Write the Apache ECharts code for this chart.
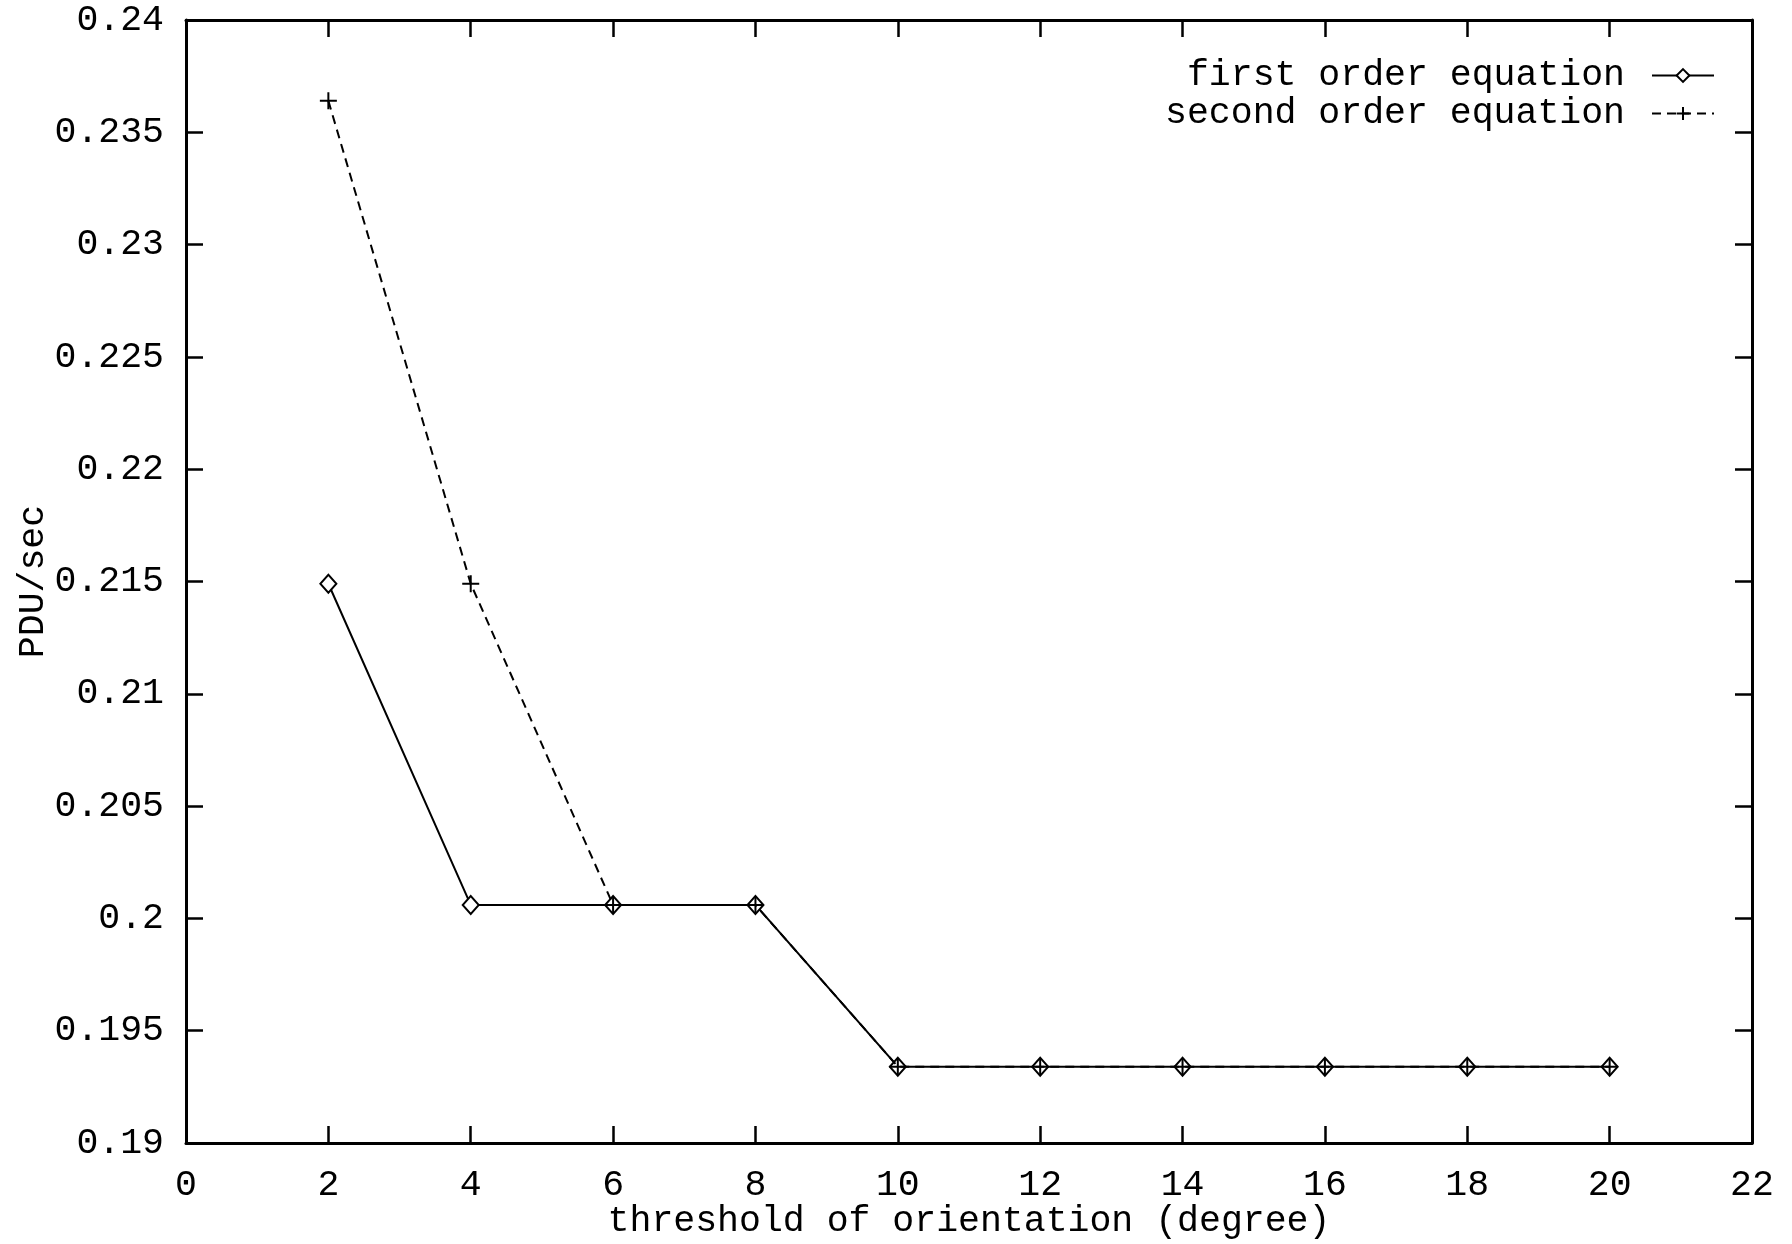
<!DOCTYPE html>
<html>
<head>
<meta charset="utf-8">
<script src="https://cdn.jsdelivr.net/npm/echarts@6/dist/echarts.min.js"></script>
<style>
  html, body { margin: 0; padding: 0; background: #ffffff; }
  #chart { width: 1792px; height: 1244px; }
</style>
</head>
<body>
<div id="chart"></div>
<script>
// Threshold of orientation (degree)
const thresholds = [2, 4, 6, 8, 10, 12, 14, 16, 18, 20];
// PDU/sec for each dead-reckoning model
const firstOrder  = [0.2149, 0.2006, 0.2006, 0.2006, 0.1934, 0.1934, 0.1934, 0.1934, 0.1934, 0.1934];
const secondOrder = [0.2364, 0.2149, 0.2006, 0.2006, 0.1934, 0.1934, 0.1934, 0.1934, 0.1934, 0.1934];
const seriesNames = ['first order equation', 'second order equation'];

const FONT = '"Liberation Mono", "DejaVu Sans Mono", monospace';
const FS = 36.5;

const pairs = (ys) => thresholds.map((x, i) => [x, ys[i]]);
const yFmt = (v) => String(+v.toFixed(3));

const tickStyle = { show: true, inside: true, length: 17, lineStyle: { color: '#000', width: 2.5 } };
const lineAxis = { show: true, onZero: false, lineStyle: { color: '#000', width: 3 } };

const chart = echarts.init(document.getElementById('chart'), null, { renderer: 'canvas' });
chart.setOption({
  animation: false,
  backgroundColor: '#ffffff',
  textStyle: { fontFamily: FONT, color: '#000' },
  grid: { left: 186, right: 40, top: 20, bottom: 101, containLabel: false, outerBoundsMode: 'none' },
  legend: {
    orient: 'vertical',
    right: 72,
    top: 52,
    align: 'right',
    itemWidth: 62,
    itemHeight: 16,
    itemGap: 1,
    textStyle: { fontFamily: FONT, fontSize: FS, color: '#000', padding: [0, 22, 0, 0] },
    data: seriesNames
  },
  xAxis: [
    {
      type: 'value', min: 0, max: 22, interval: 2,
      axisLine: lineAxis, axisTick: tickStyle, splitLine: { show: false },
      axisLabel: { fontFamily: FONT, fontSize: FS, color: '#000', margin: 24 },
      name: 'threshold of orientation (degree)',
      nameLocation: 'middle', nameGap: 60, nameMoveOverlap: false,
      nameTextStyle: { fontFamily: FONT, fontSize: FS, color: '#000' }
    },
    {
      type: 'value', position: 'top', min: 0, max: 22, interval: 2,
      axisLine: lineAxis, axisTick: tickStyle, splitLine: { show: false },
      axisLabel: { show: false }
    }
  ],
  yAxis: [
    {
      type: 'value', min: 0.19, max: 0.24, interval: 0.005,
      axisLine: lineAxis, axisTick: tickStyle, splitLine: { show: false },
      axisLabel: { fontFamily: FONT, fontSize: FS, color: '#000', margin: 22, formatter: yFmt },
      name: 'PDU/sec', nameLocation: 'middle', nameGap: 134, nameRotate: 90, nameMoveOverlap: false,
      nameTextStyle: { fontFamily: FONT, fontSize: FS, color: '#000' }
    },
    {
      type: 'value', position: 'right', min: 0.19, max: 0.24, interval: 0.005,
      axisLine: lineAxis, axisTick: tickStyle, splitLine: { show: false },
      axisLabel: { show: false }
    }
  ],
  series: [
    {
      name: seriesNames[0],
      type: 'line',
      data: pairs(firstOrder),
      symbol: 'diamond',
      symbolSize: [16, 18],
      showAllSymbol: true,
      lineStyle: { color: '#000', width: 2, type: 'solid' },
      itemStyle: { color: '#ffffff', borderColor: '#000', borderWidth: 2 },
      z: 2
    },
    {
      name: seriesNames[1],
      type: 'line',
      data: pairs(secondOrder),
      symbol: 'path://M0,-1L0,1M-1,0L1,0',
      symbolSize: 17,
      showAllSymbol: true,
      lineStyle: { color: '#000', width: 2, type: [9, 6] },
      itemStyle: { color: '#000', borderColor: '#000', borderWidth: 2 },
      z: 3
    }
  ]
});
</script>
</body>
</html>
